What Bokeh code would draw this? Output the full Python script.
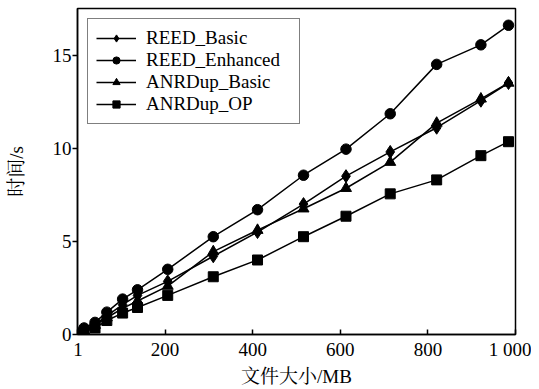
from bokeh.plotting import figure
from bokeh.models import Range1d, FixedTicker, Legend, LegendItem
from bokeh.embed import file_html
from bokeh.resources import INLINE

sizes_mb = [1, 15, 40, 67, 103, 137, 206, 310, 411, 516, 613, 714, 820, 921, 984]
reed_basic = [0.02, 0.25, 0.55, 1.0, 1.6, 2.1, 2.85, 4.2, 5.5, 7.0, 8.5, 9.8, 11.1, 12.55, 13.5]
reed_enhanced = [0.02, 0.35, 0.65, 1.2, 1.9, 2.4, 3.5, 5.25, 6.7, 8.55, 9.95, 11.85, 14.5, 15.55, 16.6]
anrdup_basic = [0.02, 0.2, 0.5, 0.9, 1.4, 1.8, 2.6, 4.45, 5.6, 6.75, 7.85, 9.25, 11.35, 12.65, 13.5]
anrdup_op = [0.02, 0.15, 0.35, 0.75, 1.15, 1.45, 2.1, 3.1, 4.0, 5.25, 6.35, 7.55, 8.3, 9.6, 10.35]

series_names = ["REED_Basic", "REED_Enhanced", "ANRDup_Basic", "ANRDup_OP"]
series_values = [reed_basic, reed_enhanced, anrdup_basic, anrdup_op]
markers = ["diamond", "circle", "triangle", "square"]
marker_sizes = [13, 10.5, 11, 10]

x_ticks = [1, 200, 400, 600, 800, 1000]
x_tick_labels = {1000: "1 000"}
y_ticks = [0, 5, 10, 15]

SERIF = "'Liberation Serif', 'Times New Roman', serif"
CJK = "'Liberation Serif', 'Noto Serif CJK SC', 'Noto Sans CJK SC', serif"

p = figure(width=531, height=389, output_backend="svg", toolbar_location=None,
           x_range=Range1d(0, 1000), y_range=Range1d(0, 17.5),
           min_border_left=77, min_border_right=16, min_border_top=8, min_border_bottom=55)

p.xgrid.visible = False
p.ygrid.visible = False
p.outline_line_color = "black"
p.outline_line_width = 1.5
p.background_fill_color = "white"
p.border_fill_color = "white"

items = []
for name, vals, m, s in zip(series_names, series_values, markers, marker_sizes):
    l = p.line(sizes_mb, vals, line_color="black", line_width=1.5)
    sc = p.scatter(sizes_mb, vals, marker=m, size=s, fill_color="black", line_color="black")
    items.append(LegendItem(label=name, renderers=[l, sc]))

legend = Legend(items=items, location="top_left")
legend.margin = 10
legend.padding = 8
legend.spacing = 0
legend.label_height = 18
legend.glyph_height = 18
legend.glyph_width = 40
legend.label_width = 145
legend.label_standoff = 10
legend.label_text_font = SERIF
legend.label_text_font_size = "19px"
legend.label_text_color = "black"
legend.border_line_color = "black"
legend.border_line_width = 1.5
legend.background_fill_alpha = 1.0
p.add_layout(legend, "center")

xa = p.xaxis[0]
xa.ticker = FixedTicker(ticks=x_ticks)
xa.major_label_overrides = x_tick_labels
xa.minor_tick_line_color = None
xa.major_tick_in = 5
xa.major_tick_out = 0
xa.major_label_standoff = 4
xa.axis_line_width = 1.5
xa.major_tick_line_width = 1.5
xa.axis_line_color = "black"
xa.major_label_text_font = SERIF
xa.major_label_text_font_size = "19px"
xa.major_label_text_color = "black"
xa.axis_label = "文件大小/MB"
xa.axis_label_text_font = CJK
xa.axis_label_text_font_size = "19px"
xa.axis_label_text_font_style = "normal"
xa.axis_label_standoff = 3
xa.axis_label_text_color = "black"

ya = p.yaxis[0]
ya.ticker = FixedTicker(ticks=y_ticks)
ya.minor_tick_line_color = None
ya.major_tick_in = 0
ya.major_tick_out = 5
ya.major_label_standoff = 1
ya.axis_line_width = 1.5
ya.major_tick_line_width = 1.5
ya.axis_line_color = "black"
ya.major_label_text_font = SERIF
ya.major_label_text_font_size = "19px"
ya.major_label_text_color = "black"
ya.axis_label = "时间/s"
ya.axis_label_text_font = CJK
ya.axis_label_text_font_size = "19px"
ya.axis_label_text_font_style = "normal"
ya.axis_label_standoff = 23
ya.axis_label_text_color = "black"

open("out.html", "w").write(file_html(p, INLINE))
